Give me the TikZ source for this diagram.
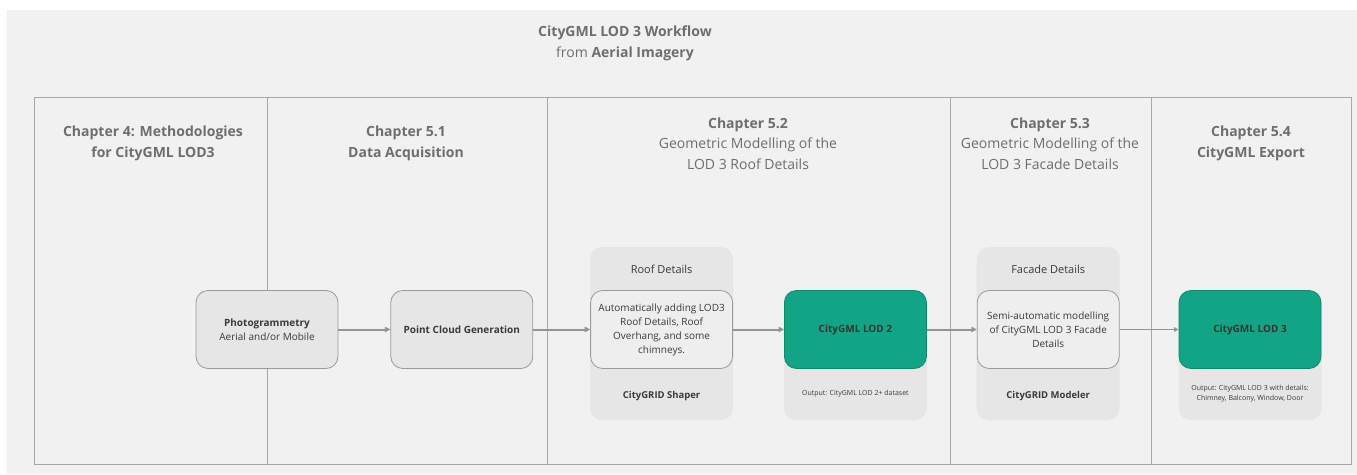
\documentclass[tikz,border=0pt]{standalone}
\usepackage{fontspec}
\setmainfont{Open Sans}
\usetikzlibrary{arrows.meta,  % arrow tips
  positioning,                % relative placement of nodes
  backgrounds}                % group boxes behind the steps

\definecolor{bgGrey}{HTML}{F1F1F1}
\definecolor{laneLine}{HTML}{A8A8A8}
\definecolor{boxFill}{HTML}{E6E6E6}
\definecolor{boxLine}{HTML}{9A9A9A}
\definecolor{headText}{HTML}{6E6E6E}
\definecolor{bodyText}{HTML}{3A3A3A}
\definecolor{cityGreen}{HTML}{12A585}
\definecolor{cityGreenLine}{HTML}{0E8A6E}

\begin{document}
\begin{tikzpicture}[x=1pt,y=-1pt,node distance=52pt,>={Triangle[length=5.5pt,width=5.5pt]},
  % the pixel grid of the reference is used directly: 1pt = 1px, y grows downwards
  % styles of the steps
  {stepbox}/.style={draw=boxLine,fill=boxFill,rounded corners=12pt,line width=0.8pt,
    minimum width=142pt,minimum height=78pt,inner sep=2pt,align=center,text=bodyText,
    font=\fontsize{10}{14}\selectfont},
  {greenbox}/.style={stepbox,draw=cityGreenLine,fill=cityGreen,text=black!80,
    font=\fontsize{10}{14}\selectfont\bfseries},
  {groupbox}/.style={fill=boxFill,rounded corners=12pt,minimum width=143pt,inner sep=0pt},
  {head}/.style={align=center,text=headText,font=\fontsize{14}{20.5}\selectfont},
  {flow}/.style={->,draw=black!42,line width=2pt},
  {lane}/.style={draw=laneLine,line width=0.8pt}]

  % canvas
  \useasboundingbox (0,0) rectangle (1357,474);

  % title
  \node[head] (title) at (625,43.5) {\textbf{CityGML LOD 3 Workflow}\\from \textbf{Aerial Imagery}};

  % swimlanes
  \draw[lane] (34,97) rectangle (1351,464);
  \foreach \x in {267,547,950,1151}
    \draw[lane] (\x,97) -- (\x,464);

  % chapter headings
  \node[head] (ch4)  at (153,143.5)  {\textbf{Chapter 4: Methodologies}\\\textbf{for CityGML LOD3}};
  \node[head] (ch51) at (406,143.5)  {\textbf{Chapter 5.1}\\\textbf{Data Acquisition}};
  \node[head] (ch52) at (748,143.5)  {\textbf{Chapter 5.2}\\Geometric Modelling of the\\LOD 3 Roof Details};
  \node[head] (ch53) at (1050,143.5) {\textbf{Chapter 5.3}\\Geometric Modelling of the\\LOD 3 Facade Details};
  \node[head] (ch54) at (1251,143.5) {\textbf{Chapter 5.4}\\\textbf{CityGML Export}};

  % workflow steps
  \node[stepbox] (photo) at (267,329.5) {\textbf{Photogrammetry}\\Aerial and/or Mobile};
  \node[stepbox,font=\fontsize{10}{14}\selectfont\bfseries] (pcg) [right=of photo] {Point Cloud Generation};
  \node[stepbox,fill=bgGrey!70!boxFill] (roof) [right=57pt of pcg]
    {Automatically adding LOD3\\Roof Details, Roof\\Overhang, and some\\chimneys.};
  \node[greenbox] (lod2) [right=51pt of roof] {CityGML LOD 2};
  \node[stepbox,fill=bgGrey!70!boxFill] (facade) [right=50pt of lod2]
    {Semi-automatic modelling\\of CityGML LOD 3 Facade\\Details};
  \node[greenbox] (lod3) [right=59pt of facade] {CityGML LOD 3};

  % captions of the groups
  \node[text=bodyText,font=\fontsize{11}{14}\selectfont] (roofcap) [above=13pt of roof] {Roof Details};
  \node[text=bodyText,font=\fontsize{9.5}{12}\selectfont\bfseries] (roofsw) [below=19pt of roof] {CityGRID Shaper};
  \node[text=bodyText,font=\fontsize{11}{14}\selectfont] (faccap) [above=13pt of facade] {Facade Details};
  \node[text=bodyText,font=\fontsize{9.5}{12}\selectfont\bfseries] (facsw) [below=19pt of facade] {CityGRID Modeler};
  \node[text=bodyText,align=center,font=\fontsize{7}{10}\selectfont] (lod2out) [below=18pt of lod2]
    {Output: CityGML LOD 2+ dataset};
  \node[text=bodyText,align=center,font=\fontsize{7}{10}\selectfont] (lod3out) [below=13pt of lod3]
    {Output: CityGML LOD 3 with details:\\Chimney, Balcony, Window, Door};

  % page colour and group boxes behind the steps
  \begin{scope}[on background layer]
    \fill[bgGrey] (7,10) rectangle (1357,474);
    \node[groupbox,minimum height=173pt] (roofgrp) at (roof |- 0,333.5) {};
    \node[groupbox,minimum height=173pt] (facgrp) at (facade |- 0,333.5) {};
    \node[groupbox,minimum height=130pt] (lod2grp) at (lod2 |- 0,355) {};
    \node[groupbox,minimum height=130pt] (lod3grp) at (lod3 |- 0,355) {};
  \end{scope}

  % connectors
  \draw[flow] (photo) -- (pcg);
  \draw[flow] (pcg) -- (roof);
  \draw[flow] (roof) -- (lod2);
  \draw[flow] (lod2) -- (facade);
  \draw[flow,line width=1pt,>={Triangle[length=4.5pt,width=4.5pt]}] (facade) -- (lod3);

\end{tikzpicture}
\end{document}
